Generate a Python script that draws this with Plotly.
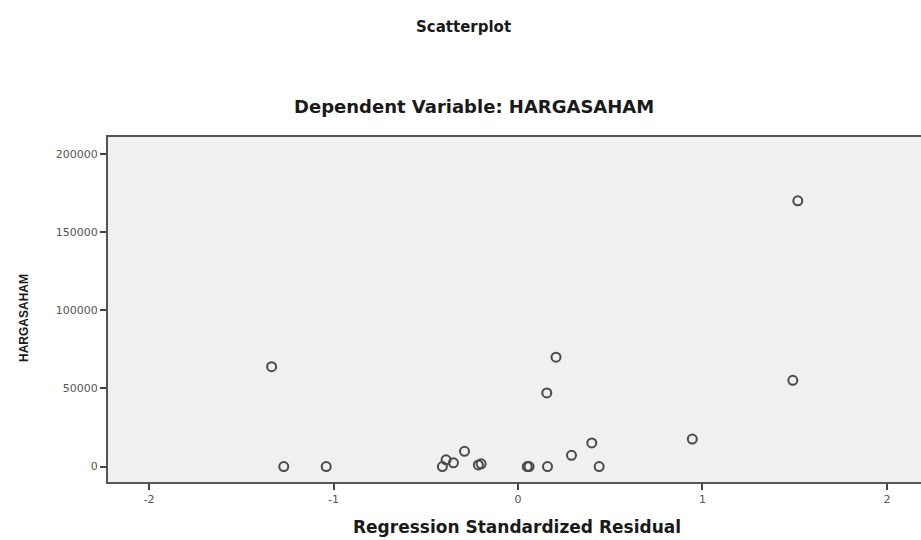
import plotly.graph_objects as go

# Regression standardized residual (x) vs HARGASAHAM (y)
residual = [1.517, 1.49, -1.336, 0.206, 0.156, 0.945, 0.40, 0.29, 0.44, 0.16,
            0.05, 0.06, -1.27, -1.04, -0.41, -0.39, -0.35, -0.29, -0.215, -0.20]
hargasaham = [170000, 55200, 63900, 70000, 47100, 17600, 15100, 7200, 0, 0,
              0, 0, 0, 0, 0, 4300, 2400, 9700, 1000, 1700]

x_ticks = [-2, -1, 0, 1, 2]
y_ticks = [0, 50000, 100000, 150000, 200000]

W, H = 921, 540
L, R, T, B = 108, 0, 137, 58
PW, PH = W - L - R, H - T - B

fig = go.Figure()
fig.add_trace(go.Scatter(
    x=residual, y=hargasaham, mode="markers",
    marker=dict(symbol="circle-open", size=9, color="#4a4a4a", line=dict(width=2, color="#4a4a4a")),
    showlegend=False, hoverinfo="x+y"))

title_font = "DejaVu Sans, Liberation Sans, Arial, sans-serif"


def ann(text, cx, cy, size, family=title_font, angle=0):
    return dict(text=text, xref="paper", yref="paper", x=(cx - L) / PW, y=(H - B - cy) / PH,
                xanchor="center", yanchor="middle", showarrow=False, textangle=angle,
                font=dict(family=family, size=size, color="#1a1a1a"))


fig.update_layout(
    width=W, height=H,
    margin=dict(l=L, r=R, t=T, b=B, autoexpand=False),
    paper_bgcolor="white", plot_bgcolor="#f0f0f0",
    font=dict(family="Liberation Sans, Arial, sans-serif", color="#222"),
    annotations=[
        ann("<b>Scatterplot</b>", 463, 27, 15),
        ann("<b>Dependent Variable: HARGASAHAM</b>", 474, 106, 18),
        ann("<b>HARGASAHAM</b>", 24, 318, 12, family="Liberation Sans, Arial, sans-serif", angle=-90),
        ann("<b>Regression Standardized Residual</b>", 517, 527, 17),
    ],
)
fig.update_xaxes(
    range=[-2.223, 2.185], tickvals=x_ticks, ticktext=[str(v) for v in x_ticks],
    showgrid=False, zeroline=False, showline=True, linecolor="#555", linewidth=2,
    mirror=True, ticks="outside", ticklen=6, tickwidth=2, tickcolor="#444",
    tickfont=dict(family=title_font, size=11, color="#555"), automargin=False,
)
fig.update_yaxes(
    range=[-9900, 210870], tickvals=y_ticks, ticktext=[str(v) for v in y_ticks],
    showgrid=False, zeroline=False, showline=True, linecolor="#555", linewidth=2,
    ticks="outside", ticklen=6, tickwidth=2, tickcolor="#444",
    tickfont=dict(family=title_font, size=11, color="#555"), automargin=False,
)

fig.write_html("out.html", config={"displayModeBar": False},
               post_script="document.body.style.margin='0';document.body.style.overflow='hidden';")
